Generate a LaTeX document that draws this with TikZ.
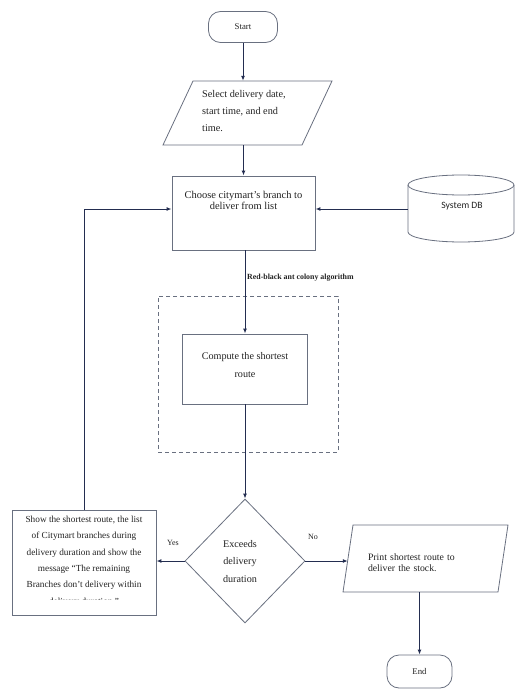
\documentclass[tikz,border=0pt]{standalone}
\usepackage{fontspec}
\setmainfont{Liberation Serif}
\newfontfamily\dbfont{Carlito}
\usetikzlibrary{shapes.geometric,arrows.meta}
\definecolor{edgeC}{RGB}{105,112,128}
\definecolor{arrC}{RGB}{35,45,80}
\definecolor{txtC}{RGB}{35,35,35}
\begin{document}
\begin{tikzpicture}[x=1bp,y=-1bp,
  term/.style={draw=edgeC, line width=0.8bp, rounded corners=12bp, inner sep=0pt, text=txtC, font=\fontsize{8.8}{10}\selectfont},
  proc/.style={draw=edgeC, line width=0.9bp, inner sep=0pt},
  ghost/.style={inner sep=0pt},
  shapeline/.style={draw=edgeC, line width=0.8bp},
  txt/.style={text=txtC, align=center, inner sep=0pt},
  conn/.style={draw=arrC, line width=1bp, -{Latex[length=5bp,width=4bp]}},
  small/.style={text=txtC, inner sep=0pt, font=\fontsize{8}{9}\selectfont}]
\useasboundingbox (0,0) rectangle (515,689);
\fill[white] (0,0) rectangle (515,689);

% Start
\node[term, minimum width=69bp, minimum height=31bp] (start) at (243,27) {Start};

% Select (input parallelogram)
\node[ghost, minimum width=139bp, minimum height=64bp] (sel) at (247.5,113) {};
\draw[shapeline] (193,81) -- (332,81) -- (302,145) -- (163,145) -- cycle;
\node[txt, align=left, anchor=north west, font=\fontsize{10.3}{17}\selectfont] (seltxt) at (202,90.5) {Select delivery date,\\ start time, and end\\ time.};

% Choose
\node[proc, minimum width=143bp, minimum height=74bp] (choose) at (243.5,213) {};
\node[txt, font=\fontsize{10.5}{11}\selectfont] (choosetxt) at (243.5,200) {Choose citymart's branch to\\ deliver from list};

% System DB cylinder
\node[ghost, minimum width=106bp, minimum height=67bp] (db) at (461,208.5) {};
\draw[shapeline] (461,185) ellipse [x radius=53bp, y radius=10bp];
\draw[shapeline] (408,185) -- (408,232) arc[start angle=180, end angle=360, x radius=53bp, y radius=10bp] -- (514,185);
\node[txt, font=\dbfont\fontsize{9.7}{11}\selectfont] (dbtxt) at (462,206) {System DB};

% label
\node[small, anchor=west, font=\bfseries\fontsize{7.9}{9}\selectfont] (lbl) at (247,278) {Red-black ant colony algorithm};

% dashed group
\node[draw=edgeC, line width=0.9bp, dash pattern=on 4bp off 3bp, minimum width=180bp, minimum height=156bp, inner sep=0pt] (grp) at (248,374) {};

% Compute
\node[proc, minimum width=125bp, minimum height=70bp] (comp) at (245,369) {};
\node[txt, font=\fontsize{10.2}{18}\selectfont] (comptxt) at (245,365) {Compute the shortest\\ route};

% Decision
\node[shapeline, diamond, minimum width=120bp, minimum height=124bp, inner sep=0pt] (dec) at (245,561) {};
\node[txt, font=\fontsize{10.2}{18}\selectfont] (dectxt) at (240,561.5) {Exceeds\\ delivery\\ duration};

% Show box
\node[proc, minimum width=144bp, minimum height=105bp] (show) at (84,562.5) {};
\begin{scope}
\clip (12,510) rectangle (156,599);
\node[txt, anchor=north, font=\fontsize{9.3}{16.5}\selectfont] (showtxt) at (84,515.5) {Show the shortest route, the list\\ of Citymart branches during\\ delivery duration and show the\\ message \textquotedblleft The remaining\\ Branches don't delivery within\\ delivery duration.\textquotedblright};
\end{scope}

% Yes / No
\node[small] (yes) at (173,543) {Yes};
\node[small] (no) at (313,537) {No};

% Print (output parallelogram)
\node[ghost, minimum width=155bp, minimum height=67bp] (print) at (425.5,558.5) {};
\draw[shapeline] (353,525) -- (508,525) -- (498,592) -- (343,592) -- cycle;
\node[txt, align=left, text width=115bp, font=\fontsize{9.8}{11}\selectfont] (printtxt) at (425.5,562.5) {\makebox[115bp][s]{Print shortest route to}\\ deliver the stock.};

% End
\node[term, minimum width=65bp, minimum height=33bp] (endn) at (419.5,671.5) {End};

% connectors
\draw[conn] (start.south) -- (start.south |- sel.north);
\draw[conn] (choose.north |- sel.south) -- (choose.north);
\draw[conn] ([yshift=4bp]choose.east -| db.west) -- ([yshift=4bp]choose.east);
\draw[conn] (show.north) |- ([yshift=4bp]choose.west);
\draw[conn] (comp.north |- choose.south) -- (comp.north);
\draw[conn] (comp.south) -- (dec.north);
\draw[conn] (dec.west) -- (dec.west -| show.east);
\draw[conn] (dec.east) -- (dec.east -| print.west);
\draw[conn] (endn.north |- print.south) -- (endn.north);
\end{tikzpicture}
\end{document}
